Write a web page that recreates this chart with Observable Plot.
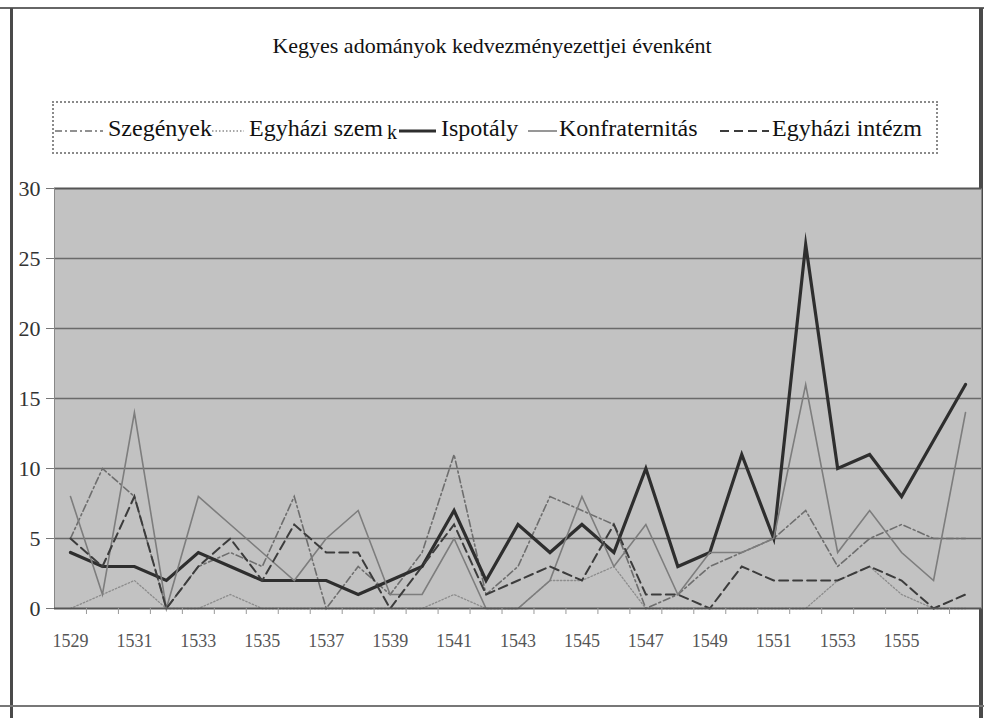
<!DOCTYPE html>
<html>
<head>
<meta charset="utf-8">
<script src="https://cdn.jsdelivr.net/npm/d3@7"></script>
<script src="https://cdn.jsdelivr.net/npm/@observablehq/plot@0.6"></script>
<style>
  html, body { margin: 0; padding: 0; background: #fff; }
  #page { position: relative; width: 984px; height: 718px; overflow: hidden; font-family: "Liberation Serif", "DejaVu Serif", serif; }
  .frame { position: absolute; background: #4a4a4a; }
  #title { position: absolute; left: 0; width: 984px; top: 33px; text-align: center; font-size: 22px; color: #111; }
  #legend { position: absolute; left: 52px; top: 101px; width: 882px; height: 49px; border: 2px dotted #8a8a8a; overflow: hidden; white-space: nowrap; font-size: 24px; color: #111; }
  #legend .item { position: absolute; top: 12px; }
  #chart { position: absolute; left: 0; top: 170px; }
</style>
</head>
<body>
<div id="page">
  <div class="frame" style="left:0;top:7px;width:984px;height:2px;background:#666"></div>
  <div class="frame" style="left:10px;top:8px;width:3px;height:710px"></div>
  <div class="frame" style="left:979px;top:8px;width:4px;height:710px"></div>
  <div class="frame" style="left:0;top:705px;width:984px;height:2px;background:#777"></div>
  <div id="title">Kegyes adományok kedvezményezettjei évenként</div>
  <div id="legend"></div>
  <div id="chart"></div>
</div>
<script>
const years = [1529,1530,1531,1532,1533,1534,1535,1536,1537,1538,1539,1540,1541,1542,1543,1544,1545,1546,1547,1548,1549,1550,1551,1552,1553,1554,1555,1556,1557];
const szegenyek      = [5,10,8,0,3,4,3,8,0,3,1,4,11,1,3,8,7,6,0,1,3,4,5,7,3,5,6,5,5];
const egyhaziSzem    = [0,1,2,0,0,1,0,0,0,0,0,0,1,0,0,2,2,3,0,0,0,0,0,0,2,3,1,0,0];
const ispotaly       = [4,3,3,2,4,3,2,2,2,1,2,3,7,2,6,4,6,4,10,3,4,11,5,26,10,11,8,12,16];
const konfraternitas = [8,1,14,0,8,6,4,2,5,7,1,1,5,0,0,2,8,3,6,1,4,4,5,16,4,7,4,2,14];
const egyhaziIntezm  = [5,3,8,0,3,5,2,6,4,4,0,3,6,1,2,3,2,6,1,1,0,3,2,2,2,3,2,0,1];
const yTicks = [0,5,10,15,20,25,30];
const xTickLabels = [1529,1531,1533,1535,1537,1539,1541,1543,1545,1547,1549,1551,1553,1555];

const seriesNames = ["Szegények","Egyházi szem","Ispotály","Konfraternitás","Egyházi intézm"];
const seriesValues = [szegenyek, egyhaziSzem, ispotaly, konfraternitas, egyhaziIntezm];
const styles = {
  "Szegények":      {stroke: "#6e6e6e", strokeWidth: 1.6, dash: "7,3,2,3"},
  "Egyházi szem":   {stroke: "#8c8c8c", strokeWidth: 1.3, dash: "1.5,2"},
  "Ispotály":       {stroke: "#2e2e2e", strokeWidth: 3.2, dash: null},
  "Konfraternitás": {stroke: "#7d7d7d", strokeWidth: 1.6, dash: null},
  "Egyházi intézm": {stroke: "#3c3c3c", strokeWidth: 2, dash: "9,5"}
};

const rows = [];
seriesNames.forEach((name, si) => {
  years.forEach((yr, i) => rows.push({series: name, year: yr, value: seriesValues[si][i]}));
});
const boundaries = years.slice(0, -1).map(y => y + 0.5);

const lineMarks = seriesNames.map(name => {
  const s = styles[name];
  return Plot.line(rows.filter(r => r.series === name), {
    x: "year", y: "value", stroke: s.stroke, strokeWidth: s.strokeWidth,
    strokeDasharray: s.dash || undefined, strokeLinejoin: "miter", strokeMiterlimit: 10
  });
});

const chart = Plot.plot({
  width: 984,
  height: 500,
  marginLeft: 54,
  marginRight: 3,
  marginTop: 18,
  marginBottom: 62,
  style: {fontFamily: "Liberation Serif, serif", background: "transparent", overflow: "visible"},
  x: {type: "linear", domain: [years[0] - 0.5, years[years.length - 1] + 0.5], axis: null, label: null},
  y: {type: "linear", domain: [0, 30], axis: null, label: null},
  marks: [
    Plot.frame({fill: "#c2c2c2", stroke: "none"}),
    Plot.ruleY(yTicks.filter(t => t > 0 && t < 30), {stroke: "#6a6a6a", strokeWidth: 1.3}),
    Plot.ruleY([30], {stroke: "#555", strokeWidth: 2}),
    Plot.ruleX([years[0] - 0.5], {stroke: "#888", strokeWidth: 1}),
    ...lineMarks,
    Plot.ruleY([0], {stroke: "#555", strokeWidth: 2}),
    Plot.ruleX(boundaries, {x: d => d, y1: 0, y2: 0, insetBottom: -6, stroke: "#999", strokeWidth: 1}),
    Plot.axisY({ticks: yTicks, tickSize: 8, tickPadding: 6, tickFormat: d => String(d), fontSize: 22, color: "#333", stroke: "#777", label: null}),
    Plot.axisX({ticks: xTickLabels, tickSize: 0, tickPadding: 26, tickFormat: d => String(d), fontSize: 18, color: "#555", label: null})
  ]
});
document.getElementById("chart").appendChild(chart);

// Legend
const legend = document.getElementById("legend");
const legendLayout = [
  {name: "Szegények", sx: 1, sw: 48, tx: 54, label: "Szegények"},
  {name: "Egyházi szem", sx: 158, sw: 32, tx: 195, label: "Egyházi szem"},
  {name: "Ispotály", sx: 345, sw: 37, tx: 387, label: "Ispotály"},
  {name: "Konfraternitás", sx: 474, sw: 29, tx: 505, label: "Konfraternitás"},
  {name: "Egyházi intézm", sx: 666, sw: 49, tx: 718, label: "Egyházi intézm"}
];
legendLayout.forEach(it => {
  const s = styles[it.name];
  const sw = document.createElementNS("http://www.w3.org/2000/svg", "svg");
  sw.setAttribute("width", it.sw); sw.setAttribute("height", 10);
  sw.style.position = "absolute"; sw.style.left = it.sx + "px"; sw.style.top = "23px";
  const ln = document.createElementNS("http://www.w3.org/2000/svg", "line");
  ln.setAttribute("x1", 0); ln.setAttribute("x2", it.sw); ln.setAttribute("y1", 5); ln.setAttribute("y2", 5);
  ln.setAttribute("stroke", s.stroke); ln.setAttribute("stroke-width", s.strokeWidth);
  if (s.dash) ln.setAttribute("stroke-dasharray", s.dash);
  sw.appendChild(ln);
  legend.appendChild(sw);
  const t = document.createElement("span");
  t.className = "item"; t.style.left = it.tx + "px"; t.textContent = it.label;
  legend.appendChild(t);
});
const k = document.createElement("span");
k.className = "item"; k.style.left = "333px"; k.style.top = "18px"; k.style.fontSize = "20px"; k.textContent = "k";
legend.appendChild(k);
</script>
</body>
</html>
